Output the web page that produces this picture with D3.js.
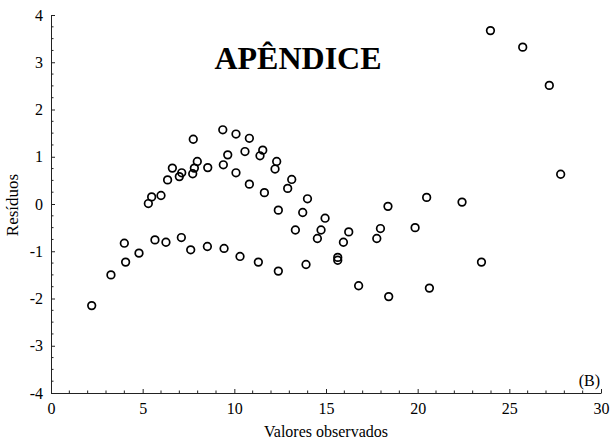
<!DOCTYPE html>
<html><head><meta charset="utf-8">
<script src="https://cdn.jsdelivr.net/npm/d3@7"></script>
<style>body{margin:0;background:#fff}svg{display:block}</style>
</head><body>
<svg id="c" width="613" height="443"></svg>
<script>
const observados = [5.31,5.49,6.0,6.36,6.62,7.0,7.13,7.76,7.73,7.82,7.98,8.55,9.37,9.40,9.64,10.09,10.09,10.58,10.82,10.82,11.40,11.55,11.64,12.22,12.31,12.40,12.91,13.13,13.73,13.99,14.95,13.33,14.53,14.73,15.64,15.64,15.95,16.24,17.77,17.97,18.38,19.86,20.49,22.42,23.97,25.73,27.18,27.80,
  2.22,3.27,4.0,4.07,4.80,5.67,6.27,7.11,7.62,8.53,9.44,10.31,11.31,12.40,13.91,16.78,18.42,20.64,23.48];
const residuos = [0.01,0.15,0.18,0.51,0.76,0.58,0.66,1.37,0.64,0.76,0.90,0.77,1.57,0.83,1.04,1.48,0.66,1.11,1.39,0.42,1.02,1.14,0.24,0.74,0.90,-0.13,0.33,0.52,-0.18,0.11,-0.30,-0.55,-0.73,-0.55,-1.13,-1.19,-0.81,-0.59,-0.73,-0.52,-0.05,-0.50,0.14,0.04,3.67,3.32,2.51,0.63,
  -2.15,-1.50,-0.83,-1.23,-1.04,-0.76,-0.81,-0.71,-0.97,-0.90,-0.94,-1.11,-1.23,-1.42,-1.28,-1.73,-1.96,-1.78,-1.23];
const xTicks = [0,5,10,15,20,25,30];
const yTicks = [-4,-3,-2,-1,0,1,2,3,4];
const titulo = "APÊNDICE";
const xTitulo = "Valores observados";
const yTitulo = "Resíduos";
const painel = "(B)";

const svg = d3.select("#c");
const L = 51, R = 601, T = 15, B = 393;
const x = d3.scaleLinear().domain([0,30]).range([L,R]);
const y = d3.scaleLinear().domain([-4,4]).range([B,T]);
const font = "'Liberation Serif','Times New Roman',serif";
const ink = "#222";

// minor ticks
const xMinor = d3.range(0,31,1).filter(v=>!xTicks.includes(v));
const yMinor = d3.range(-4,4.001,0.25).filter(v=>!yTicks.includes(v));
svg.append("g").selectAll("line").data(xMinor).join("line")
  .attr("x1",d=>x(d)).attr("x2",d=>x(d)).attr("y1",B).attr("y2",B-2.5)
  .attr("stroke",ink).attr("stroke-width",1);
svg.append("g").selectAll("line").data(yMinor).join("line")
  .attr("y1",d=>y(d)).attr("y2",d=>y(d)).attr("x1",L).attr("x2",L+2.5)
  .attr("stroke",ink).attr("stroke-width",1);

const fmt = d => String(d);
const xAxis = svg.append("g").attr("transform",`translate(0,${B})`)
  .call(d3.axisBottom(x).tickValues(xTicks).tickFormat(fmt).tickSizeInner(-4).tickSizeOuter(0).tickPadding(10));
const yAxis = svg.append("g").attr("transform",`translate(${L},0)`)
  .call(d3.axisLeft(y).tickValues(yTicks).tickFormat(fmt).tickSizeInner(-4).tickSizeOuter(0).tickPadding(8));
[xAxis,yAxis].forEach(g=>{
  g.select(".domain").attr("stroke",ink);
  g.selectAll(".tick line").attr("stroke",ink);
  g.selectAll("text").attr("font-family",font).attr("font-size",16).attr("fill","#000");
});
xAxis.selectAll("text").attr("dy","0.71em");

svg.append("g").selectAll("circle").data(observados.map((v,i)=>[v,residuos[i]])).join("circle")
  .attr("cx",d=>x(d[0])).attr("cy",d=>y(d[1])).attr("r",3.8)
  .attr("fill","none").attr("stroke","#000").attr("stroke-width",1.7);

svg.append("text").attr("x",298).attr("y",69).attr("text-anchor","middle")
  .attr("font-family",font).attr("font-weight","bold").attr("font-size",32).text(titulo);
svg.append("text").attr("x",326).attr("y",437).attr("text-anchor","middle")
  .attr("font-family",font).attr("font-size",16).text(xTitulo);
svg.append("text").attr("transform","translate(18,205) rotate(-90)").attr("text-anchor","middle")
  .attr("font-family",font).attr("font-size",17).text(yTitulo);
svg.append("text").attr("x",600).attr("y",386).attr("text-anchor","end")
  .attr("font-family",font).attr("font-size",16).text(painel);
</script>
</body></html>
